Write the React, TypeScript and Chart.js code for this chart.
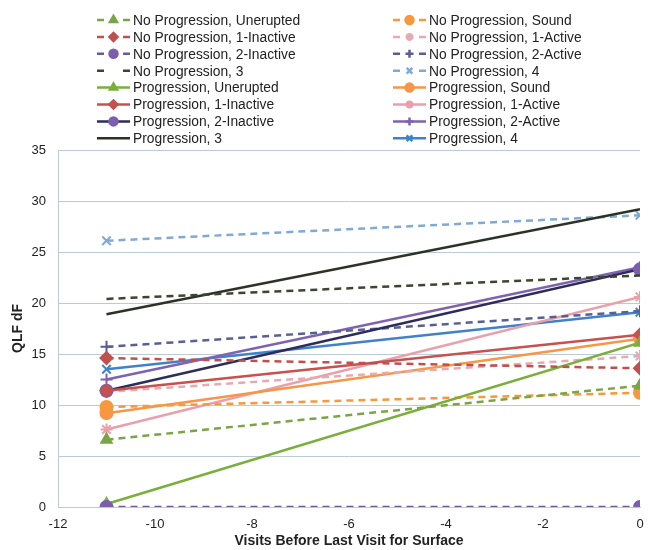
import React, { useEffect, useRef } from "react";
import { Chart, registerables } from "chart.js";
import { drawPoint } from "chart.js/helpers";

Chart.register(...registerables);

const xValues = [-11, 0];

const seriesNames = [
  "No Progression, Unerupted",
  "No Progression, 1-Inactive",
  "No Progression, 2-Inactive",
  "No Progression, 3",
  "Progression, Unerupted",
  "Progression, 1-Inactive",
  "Progression, 2-Inactive",
  "Progression, 3",
  "No Progression, Sound",
  "No Progression, 1-Active",
  "No Progression, 2-Active",
  "No Progression, 4",
  "Progression, Sound",
  "Progression, 1-Active",
  "Progression, 2-Active",
  "Progression, 4",
];

const npUnerupted = [6.6, 11.9];
const np1Inactive = [14.6, 13.6];
const np2Inactive = [0, 0];
const np3 = [20.4, 22.7];
const pUnerupted = [0.3, 16.1];
const p1Inactive = [11.4, 16.9];
const p2Inactive = [11.4, 23.3];
const p3 = [18.9, 29.2];
const npSound = [9.8, 11.2];
const np1Active = [11.3, 14.8];
const np2Active = [15.7, 19.2];
const np4 = [26.1, 28.6];
const pSound = [9.2, 16.5];
const p1Active = [7.6, 20.6];
const p2Active = [12.5, 23.5];
const p4 = [13.5, 19.1];

const seriesValues = [
  npUnerupted, np1Inactive, np2Inactive, np3,
  pUnerupted, p1Inactive, p2Inactive, p3,
  npSound, np1Active, np2Active, np4,
  pSound, p1Active, p2Active, p4,
];

const seriesColors = [
  "#7aa545", "#c0504d", "#6b5a9a", "#3a4630",
  "#7aaf3c", "#c8504d", "#2e2c5a", "#2a3326",
  "#f7983c", "#e8a9b0", "#575f96", "#82a8d6",
  "#f79646", "#e9a0aa", "#7f62b0", "#3f82cc",
];

const seriesMarkerColors = [
  "#7aa545", "#c0504d", "#7b5fae", "#3a4630",
  "#7aaf3c", "#c8504d", "#7b5fae", "#2a3326",
  "#f7983c", "#e8a9b0", "#575f96", "#82a8d6",
  "#f79646", "#e9a0aa", "#7f62b0", "#3f82cc",
];

const seriesMarkers = [
  "triangle", "rectRot", "circle", false,
  "triangle", "rectRot", "circle", false,
  "circle", "star", "cross", "crossRot",
  "circle", "star", "cross", "crossRot",
];

const seriesDashed = [
  true, true, true, true,
  false, false, false, false,
  true, true, true, true,
  false, false, false, false,
];

const xTicks = [-12, -10, -8, -6, -4, -2, 0];
const yTicks = [0, 5, 10, 15, 20, 25, 30, 35];

const FONT = "'Liberation Sans', Arial, sans-serif";
const GRID = "#bccad6";
const DASH = [7, 5];

const legendPlugin = {
  id: "twoColLegend",
  afterDraw(chart: any) {
    const ctx = chart.ctx;
    const datasets = chart.data.datasets;
    ctx.save();
    datasets.forEach((ds: any, i: number) => {
      const col = i < 8 ? 0 : 1;
      const row = i % 8;
      const y = 20 + row * 16.9;
      const lx0 = col === 0 ? 97 : 393;
      const lx1 = col === 0 ? 130 : 426;
      const tx = col === 0 ? 133 : 429;
      ctx.strokeStyle = ds.borderColor;
      ctx.lineWidth = 2.5;
      ctx.beginPath();
      if (ds.borderDash && ds.borderDash.length) {
        ctx.moveTo(lx0, y);
        ctx.lineTo(lx0 + 7, y);
        ctx.moveTo(lx1 - 7, y);
        ctx.lineTo(lx1, y);
      } else {
        ctx.moveTo(lx0, y);
        ctx.lineTo(lx1, y);
      }
      ctx.stroke();
      if (ds.pointStyle) {
        ctx.fillStyle = ds.pointBackgroundColor;
        ctx.strokeStyle = ds.pointBorderColor;
        drawPoint(
          ctx,
          { pointStyle: ds.pointStyle, radius: 4, rotation: 0, borderWidth: 1.5 },
          (lx0 + lx1) / 2,
          y
        );
      }
      ctx.fillStyle = "#222";
      ctx.font = `13.8px ${FONT}`;
      ctx.textAlign = "left";
      ctx.textBaseline = "middle";
      ctx.fillText(ds.label, tx, y + 1);
    });
    ctx.restore();
  },
};

export default function App() {
  const ref = useRef<HTMLCanvasElement>(null);

  useEffect(() => {
    document.body.style.margin = "0";
    const canvas = ref.current!;
    const datasets = seriesNames.map((name, i) => ({
      label: name,
      data: xValues.map((x, j) => ({ x, y: seriesValues[i][j] })),
      borderColor: seriesColors[i],
      backgroundColor: seriesColors[i],
      pointBackgroundColor: seriesMarkerColors[i],
      pointBorderColor: seriesMarkerColors[i],
      borderWidth: 2.5,
      borderDash: seriesDashed[i] ? DASH : [],
      pointStyle: seriesMarkers[i],
      pointRadius: seriesMarkers[i] ? 6 : 0,
      pointBorderWidth: 2,
      showLine: true,
      fill: false,
      tension: 0,
    }));
    const chart = new Chart(canvas, {
      type: "scatter",
      data: { datasets },
      plugins: [legendPlugin],
      options: {
        animation: false,
        responsive: false,
        maintainAspectRatio: false,
        layout: { padding: { top: 150, right: 7, left: 10, bottom: 0 } },
        plugins: {
          legend: { display: false },
          tooltip: { enabled: false },
        },
        scales: {
          x: {
            type: "linear",
            min: -12,
            max: 0,
            afterBuildTicks: (axis: any) => {
              axis.ticks = xTicks.map((v) => ({ value: v }));
            },
            afterFit: (scale: any) => {
              scale.height = 43;
              scale.paddingLeft = 0;
              scale.paddingRight = 0;
            },
            grid: { display: false, drawTicks: false },
            border: { display: true, color: GRID, width: 1 },
            ticks: {
              color: "#222",
              font: { family: FONT, size: 13 },
              padding: 10,
            },
            title: {
              display: true,
              text: "Visits Before Last Visit for Surface",
              color: "#222",
              font: { family: FONT, size: 14, weight: "bold" },
              padding: { top: 0, bottom: 0 },
            },
          },
          y: {
            type: "linear",
            min: 0,
            max: 35,
            afterBuildTicks: (axis: any) => {
              axis.ticks = yTicks.map((v) => ({ value: v }));
            },
            afterFit: (scale: any) => {
              scale.width = 48;
              scale.paddingTop = 0;
              scale.paddingBottom = 0;
            },
            grid: { color: GRID, lineWidth: 1, drawTicks: false },
            border: { display: true, color: GRID, width: 1 },
            ticks: {
              color: "#222",
              font: { family: FONT, size: 13 },
              padding: 12,
            },
            title: {
              display: true,
              text: "QLF dF",
              color: "#222",
              font: { family: FONT, size: 14, weight: "bold" },
              padding: { top: 0, bottom: 0 },
            },
          },
        },
      },
    } as any);
    return () => chart.destroy();
  }, []);

  return (
    <div style={{ width: 648, height: 550, background: "#fff" }}>
      <canvas ref={ref} width={648} height={550} style={{ display: "block" }} />
    </div>
  );
}
